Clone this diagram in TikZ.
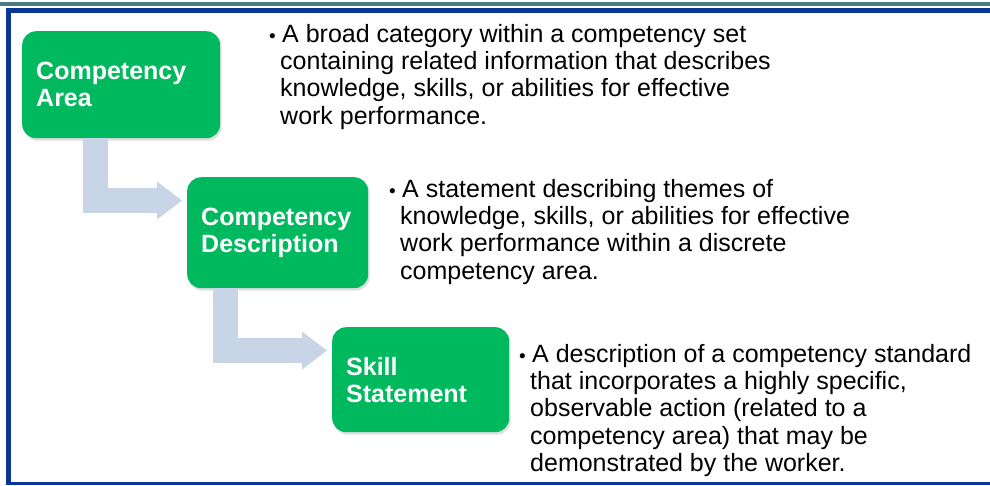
\documentclass[tikz,border=0pt]{standalone}
\usepackage{fontspec}
\setmainfont{Liberation Sans}
\usetikzlibrary{arrows.meta,calc,shadows}

\definecolor{boxgreen}{RGB}{0,185,94}
\definecolor{flowgray}{RGB}{200,213,230}
\definecolor{frameblue}{RGB}{8,56,148}
\definecolor{frameteal}{RGB}{72,124,126}

\newcommand{\bulletmark}{\makebox[13pt][l]{\fontsize{19}{19}\selectfont•}}
\newcommand{\bulletgap}{\hspace*{11pt}}

\tikzset{
  termbox/.style={fill=boxgreen, rounded corners=14pt, text=white, align=left,
    font=\fontsize{25}{27}\selectfont\bfseries, inner xsep=14pt, inner ysep=0pt,
    anchor=north west, drop shadow={shadow xshift=1.5pt, shadow yshift=-2.5pt, opacity=0.25}},
  defn/.style={font=\fontsize{25}{27.3}\selectfont, align=left, inner sep=0pt, anchor=north west},
  flow/.style={draw=flowgray, line width=25pt,
    -{Triangle[length=25pt, width=38pt, line width=0pt]}}
}

\begin{document}
\begin{tikzpicture}[x=1pt, y=-1pt]
    \useasboundingbox (0,0) rectangle (990,485);

    \fill[frameteal] (0,2) rectangle (990,6);
    \fill[frameblue] (6,8) rectangle (990,13);
    \fill[frameblue] (6,8) rectangle (11,485);
    \fill[frameblue] (6,481.5) rectangle (990,485);

    \node[termbox, text width=170pt, minimum height=107pt] (area) at (22,31) {Competency\\Area};
    \node[termbox, text width=153pt, minimum height=111pt] (desc) at (187,177) {Competency\\Description};
    \node[termbox, text width=149pt, minimum height=105pt] (skill) at (332,327) {Skill\\Statement};

    \node[defn] (areatext) at (269,24) {\bulletmark A broad category within a competency set\\
      \bulletgap containing related information that describes\\
      \bulletgap knowledge, skills, or abilities for effective\\
      \bulletgap work performance.};
    \node[defn] (desctext) at (389,179) {\bulletmark A statement describing themes of\\
      \bulletgap knowledge, skills, or abilities for effective\\
      \bulletgap work performance within a discrete\\
      \bulletgap competency area.};
    \node[defn] (skilltext) at (519,344) {\bulletmark A description of a competency standard\\
      \bulletgap that incorporates a highly specific,\\
      \bulletgap observable action (related to a\\
      \bulletgap competency area) that may be\\
      \bulletgap demonstrated by the worker.};

    \draw[flow] ($(area.south west)+(73.5,0)$) |- ($(desc.north west)+(-5,23.5)$);
    \draw[flow] ($(desc.south west)+(38.5,0)$) |- ($(skill.north west)+(-5,23.5)$);
\end{tikzpicture}
\end{document}
